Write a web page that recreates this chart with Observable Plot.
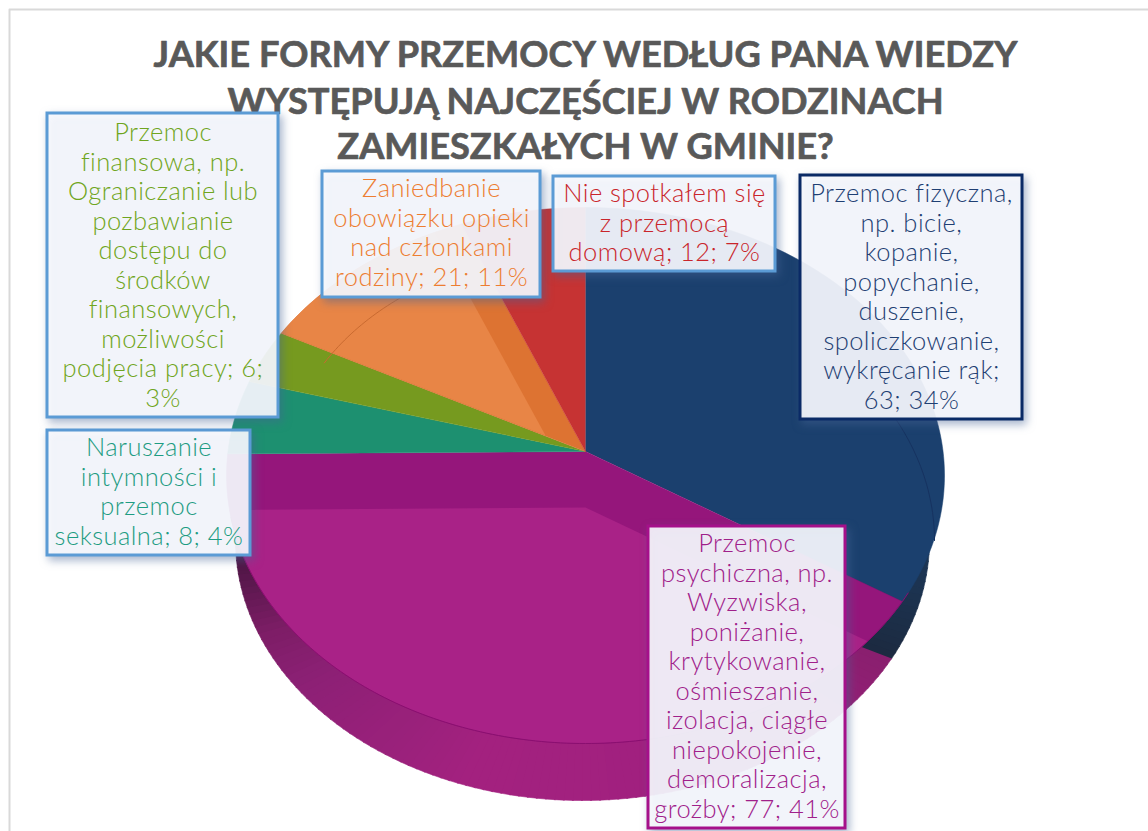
<!DOCTYPE html>
<html><head><meta charset="utf-8">
<script src="https://cdn.jsdelivr.net/npm/d3@7"></script>
<script src="https://cdn.jsdelivr.net/npm/@observablehq/plot@0.6"></script>
<style>
html,body{margin:0;padding:0;background:#fff;overflow:hidden}
#c svg{display:block}
g[aria-label="rect"] rect{filter:drop-shadow(3px 4px 4px rgba(70,100,150,.5))}
svg > g:last-of-type{letter-spacing:.45px}
</style></head><body><div id="c"></div>
<script>
const categories=["Przemoc fizyczna","Przemoc psychiczna","Naruszanie intymności","Przemoc finansowa","Zaniedbanie obowiązku opieki","Nie spotkałem się"];
const values=[63,77,8,6,21,12];
const baseColors=["#1b406e","#95167b","#1d9070","#769a1f","#dd7332","#c63333"];
const textColors=["#1f3f73","#a0208a","#1e9c82","#6fa520","#ed7d31","#c9252b"];
const boxColors=["#0a2a66","#a5108a","#5b9bd5","#5b9bd5","#5b9bd5","#5b9bd5"];
const labelTexts=[
"Przemoc fizyczna,\nnp. bicie,\nkopanie,\npopychanie,\nduszenie,\nspoliczkowanie,\nwykręcanie rąk;\n63; 34%",
"Przemoc\npsychiczna, np.\nWyzwiska,\nponiżanie,\nkrytykowanie,\nośmieszanie,\nizolacja, ciągłe\nniepokojenie,\ndemoralizacja,\ngroźby; 77; 41%",
"Naruszanie\nintymności i\nprzemoc\nseksualna; 8; 4%",
"Przemoc\nfinansowa, np.\nOgraniczanie lub\npozbawianie\ndostępu do\nśrodków\nfinansowych,\nmożliwości\npodjęcia pracy; 6;\n3%",
"Zaniedbanie\nobowiązku opieki\nnad członkami\nrodziny; 21; 11%",
"Nie spotkałem się\nz przemocą\ndomową; 12; 7%"];
const boxX1=[800,648,47,47,322,553], boxX2=[1022,845,250,278,540,775];
const boxY1=[175,526,430,113,171,176], boxY2=[419,828,555,417,297,271];
const textTop=[181,531,435,120,176,181];
const titleLines=["JAKIE FORMY PRZEMOCY WEDŁUG PANA WIEDZY","WYSTĘPUJĄ NAJCZĘŚCIEJ W RODZINACH","ZAMIESZKAŁYCH W GMINIE?"];
const titleBase=[66,113,158];

// pie geometry (layout)
const hub=[585,451], rim={cx:585,cy:475,rx:359,ry:268}, wall={cx:582,cy:540,rx:347,ry:260};
const total=d3.sum(values), rad=Math.PI/180;
let acc=0; const slices=values.map((v,i)=>{const a=acc;acc+=v/total*360;return{i,a0:a,a1:acc}});
function rayPoint(h,t){ // ray from h in perspective direction of angle t meets the rim
  const dx=Math.sin(t*rad)*359, dy=-Math.cos(t*rad)*280;
  const ox=h[0]-rim.cx, oy=h[1]-rim.cy;
  const A=dx*dx/rim.rx**2+dy*dy/rim.ry**2, B=2*(ox*dx/rim.rx**2+oy*dy/rim.ry**2), C=ox*ox/rim.rx**2+oy*oy/rim.ry**2-1;
  const s=(-B+Math.sqrt(B*B-4*A*C))/(2*A);
  return [h[0]+s*dx,h[1]+s*dy];
}
function wedge(h,a0,a1,id,c){
  const p=[{x:h[0],y:h[1],id,c}];
  for(let t=a0;;t+=1){const tt=Math.min(t,a1);const q=rayPoint(h,tt);p.push({x:q[0],y:q[1],id,c});if(tt>=a1)break;}
  return p;
}
const ell=(e,f)=>[e.cx+Math.sin(f*rad)*e.rx,e.cy-Math.cos(f*rad)*e.ry];
const wallStops=d3.scaleLinear().domain([75,100,116,117,150,200,235,248,262,270]).range(["#1b3a62","#1c3350","#1c2a40","#8a1f6f","#a0207f","#a3217f","#8c2075","#7d1d66","#55174a","#45143e"]);
const wallPts=[];
for(let f=75,n=0;f<270;f+=1.5,n++){
  const a=ell(wall,f),b=ell(wall,f+1.7),c=wallStops(f),k={...wall,rx:wall.rx*.6,ry:wall.ry*.6},d=ell(k,f+1.7),e=ell(k,f);
  [a,b,d,e].forEach(q=>wallPts.push({x:q[0],y:q[1],id:n,c}));
}
const facePts=slices.flatMap(s=>wedge(hub,s.a0,s.a1,"f"+s.i,baseColors[s.i]));
const innerPts=[
  ...wedge([hub[0],hub[1]+56],slices[1].a0,slices[1].a1,"im","#a92287"),
  ...wedge([hub[0]-40,hub[1]-16],slices[4].a0,slices[4].a1,"io","#e88546")
];
// faint inner rim lines
const arcO=d3.range(300,335,1).map(f=>{const q=ell({...rim,rx:rim.rx*.84,ry:rim.ry*.84},f);return{x:q[0],y:q[1]}});
const arcB=d3.range(63,91,1).map(f=>{const q=ell({cx:577,cy:540,rx:357,ry:268},f);return{x:q[0],y:q[1]}});
const arcM=d3.range(116,262,1).map(f=>{const q=ell(rim,f);return{x:q[0],y:q[1]}});

const labels=labelTexts.map((t,i)=>({t,x1:boxX1[i],x2:boxX2[i],y1:boxY1[i],y2:boxY2[i],top:textTop[i],fc:textColors[i],bc:boxColors[i],cat:categories[i]}));
const fontSize=25.5, lineH=29.5;

const plot=Plot.plot({
  width:1148,height:831,margin:0,
  x:{domain:[0,1148],range:[0,1148],axis:null},
  y:{domain:[0,831],range:[0,831],axis:null},
  color:{type:"identity"},
  style:{background:"#fff",fontFamily:"Lato"},
  marks:[
    Plot.line([{x:9,y:831},{x:9,y:9},{x:1148,y:9}],{x:"x",y:"y",stroke:"#d9d9d9",strokeWidth:2}),
    Plot.line(wallPts,{x:"x",y:"y",z:"id",fill:"c",stroke:"c",strokeWidth:.6}),
    Plot.line(facePts,{x:"x",y:"y",z:"id",fill:"c",stroke:"c",strokeWidth:.5}),
    Plot.line(innerPts,{x:"x",y:"y",z:"id",fill:"c"}),
    Plot.line(arcO,{x:"x",y:"y",stroke:"#c96a30",strokeWidth:1}),
    Plot.line(arcB,{x:"x",y:"y",stroke:"#163260",strokeWidth:1}),
    Plot.line(arcM,{x:"x",y:"y",stroke:"#8a0f70",strokeWidth:1}),
    Plot.text(titleLines,{x:585,y:(d,i)=>titleBase[i],text:d=>d,fontSize:36.2,fontWeight:700,fill:"#595959",stroke:"#595959",strokeWidth:.7,textAnchor:"middle",lineAnchor:"bottom",fontFamily:"Lato"}),
    Plot.rect(labels,{x1:"x1",x2:"x2",y1:"y1",y2:"y2",fill:"#f8fafe",fillOpacity:.91,stroke:"bc",strokeWidth:3}),
    Plot.text(labels,{x:d=>(d.x1+d.x2)/2,y:"top",text:"t",fill:"fc",fontSize,fontWeight:300,lineHeight:lineH/fontSize,textAnchor:"middle",lineAnchor:"top",fontFamily:"Lato"})
  ]
});
document.getElementById("c").appendChild(plot);
</script></body></html>
